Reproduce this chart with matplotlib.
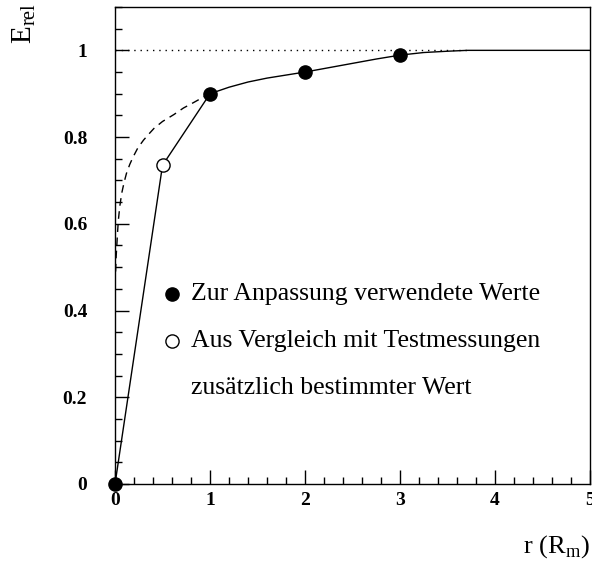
import numpy as np
import matplotlib
matplotlib.use("Agg")
import matplotlib.pyplot as plt
from matplotlib.ticker import MultipleLocator

# measured points used for the fit (filled) and the extra point (open)
fit_r = [0.0, 1.0, 2.0, 3.0]
fit_e = [0.0, 0.90, 0.95, 0.99]
extra_r = [0.5]
extra_e = [0.735]

# polyline through measured values at small r
link_r = [0.0, 0.5, 1.0]
link_e = [0.0, 0.735, 0.90]

# fitted curve (solid part, r >= 1)
curve_r = [1.0, 1.2, 1.4, 1.6, 1.8, 2.0, 2.25, 2.5, 2.75, 3.0, 3.25, 3.5, 3.71, 5.0]
curve_e = [0.900, 0.915, 0.927, 0.936, 0.943, 0.950, 0.960, 0.970, 0.980, 0.989,
           0.995, 0.998, 1.0, 1.0]

# extrapolation of the fit towards r -> 0 (dashed)
dash_r = [0.006, 0.012, 0.018, 0.026, 0.035, 0.05, 0.07, 0.095, 0.12, 0.155, 0.19,
          0.24, 0.30, 0.36, 0.41, 0.5, 0.62, 0.72, 0.83, 0.92, 1.0]
dash_e = [0.49, 0.525, 0.547, 0.578, 0.608, 0.640, 0.670, 0.695, 0.716, 0.737, 0.754,
          0.775, 0.793, 0.808, 0.820, 0.836, 0.852, 0.867, 0.880, 0.891, 0.90]

# reference level
ref_r = [0.0, 3.71]
ref_e = [1.0, 1.0]

SERIF = ["Liberation Serif", "DejaVu Serif"]
plt.rcParams["font.family"] = SERIF
plt.rcParams["mathtext.fontset"] = "custom"
plt.rcParams["mathtext.rm"] = "Liberation Serif"

fig = plt.figure(figsize=(5.92, 5.68), dpi=100)
ax = fig.add_axes([0.1943, 0.1479, 0.8024, 0.8398])

ax.plot(ref_r, ref_e, color="black", lw=1.0, ls=(0, (1, 3.5)))
ax.plot(dash_r, dash_e, color="black", lw=1.0, ls=(0, (5.5, 4)))
ax.plot(curve_r, curve_e, color="black", lw=1.0)
ax.plot(link_r, link_e, color="black", lw=1.0)
ax.plot(fit_r, fit_e, "o", color="black", ms=9.5, clip_on=False, zorder=5)
ax.plot(extra_r, extra_e, "o", mfc="white", mec="black", mew=1.0, ms=9.5, zorder=5)

ax.set_xlim(0, 5)
ax.set_ylim(0, 1.1)
ax.xaxis.set_major_locator(MultipleLocator(1))
ax.xaxis.set_minor_locator(MultipleLocator(0.2))
ax.yaxis.set_major_locator(MultipleLocator(0.2))
ax.yaxis.set_minor_locator(MultipleLocator(0.05))
ax.tick_params(which="both", direction="in", top=False, right=False, width=1.0)
ax.tick_params(which="major", length=10)
ax.tick_params(which="minor", length=5)
ax.tick_params(axis="x", pad=6)
ax.tick_params(axis="y", pad=20)
ax.set_xticklabels([f"{v:g}" for v in ax.get_xticks()])
ax.set_yticklabels([f"{v:g}" for v in ax.get_yticks()])
for lab in ax.get_xticklabels() + ax.get_yticklabels():
    lab.set_fontweight("bold")
    lab.set_fontsize(14)
for sp in ax.spines.values():
    sp.set_linewidth(1.0)

# legend written as text, like the original
ax.plot([0.6], [0.437], "o", color="black", ms=9.5)
ax.text(0.8, 0.437, "Zur Anpassung verwendete Werte", fontsize=18.5, va="center")
ax.plot([0.6], [0.329], "o", mfc="white", mec="black", mew=1.0, ms=9.5)
ax.text(0.8, 0.329, "Aus Vergleich mit Testmessungen", fontsize=18.5, va="center")
ax.text(0.8, 0.221, "zusätzlich bestimmter Wert", fontsize=18.5, va="center")

fig.text(24 / 592, 1 - 23 / 568, r"E$_\mathrm{rel}$", rotation=90, fontsize=21,
         ha="center", va="center")
fig.text(556 / 592, 1 - 547 / 568, r"r (R$_\mathrm{m}$)", fontsize=19,
         ha="center", va="center")

fig.savefig("out.png", dpi=100)
